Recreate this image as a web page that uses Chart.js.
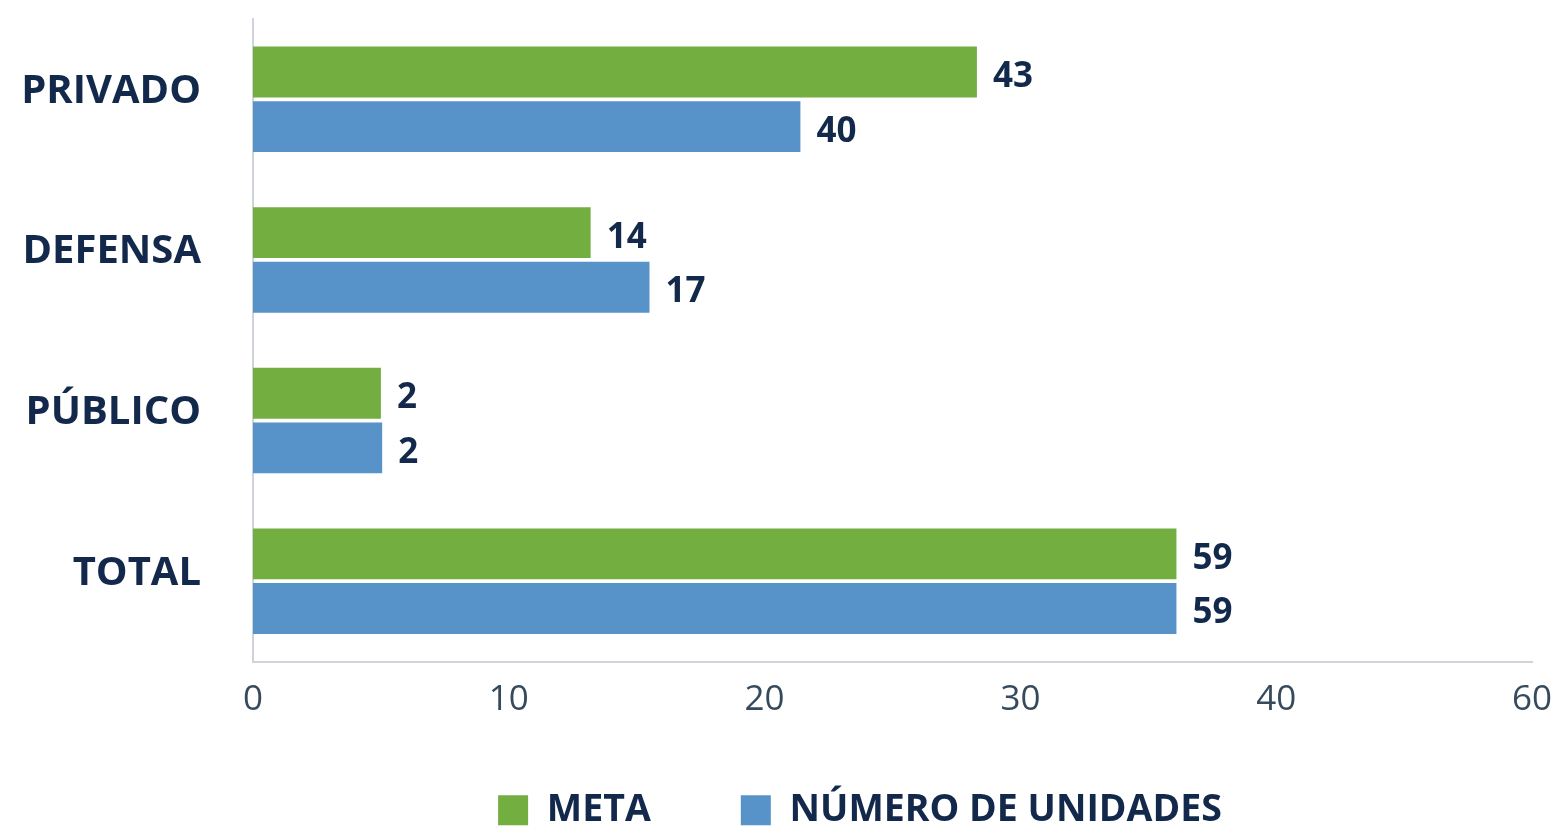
<!DOCTYPE html>
<html>
<head>
<meta charset="utf-8">
<script src="https://cdn.jsdelivr.net/npm/chart.js@4.4.1/dist/chart.umd.min.js"></script>
<style>
  html, body { margin: 0; padding: 0; background: #ffffff; }
  #wrap { width: 1568px; height: 830px; }
</style>
</head>
<body>
<div id="wrap"><canvas id="c" width="1568" height="830"></canvas></div>
<script>
// Categories (top to bottom)
const categories = ['PRIVADO', 'DEFENSA', 'PÚBLICO', 'TOTAL'];
// Series names
const seriesNames = ['META', 'NÚMERO DE UNIDADES'];
// Bar lengths as drawn in the picture (axis units)
const metaBars = [28.3, 13.2, 5.0, 36.1];
const unidadesBars = [21.4, 15.5, 5.05, 36.1];
// Value labels printed next to the bars
const metaLabels = ['43', '14', '2', '59'];
const unidadesLabels = ['40', '17', '2', '59'];
// Axis tick labels as printed (positions 0,10,20,30,40,50)
const tickLabels = ['0', '10', '20', '30', '40', '60'];

const GREEN = '#73ae41';
const BLUE = '#5792c9';
const NAVY = '#13294b';
const SLATE = '#364a5e';
const FONT = "'Open Sans', 'Noto Sans', sans-serif";

const valueLabelPlugin = {
  id: 'valueLabels',
  afterDatasetsDraw(chart) {
    const ctx = chart.ctx;
    const labelSets = [metaLabels, unidadesLabels];
    ctx.save();
    ctx.font = "bold 35px " + FONT;
    ctx.fillStyle = NAVY;
    ctx.textAlign = 'left';
    ctx.textBaseline = 'middle';
    chart.data.datasets.forEach((ds, di) => {
      const meta = chart.getDatasetMeta(di);
      meta.data.forEach((bar, i) => {
        ctx.fillText(labelSets[di][i], bar.x + 16, bar.y + 5);
      });
    });
    ctx.restore();
  }
};

// Shift the legend block so it sits where the reference places it
const legendShift = {
  id: 'legendShift',
  afterLayout(chart) {
    const lg = chart.legend;
    if (!lg) return;
    lg.left += 94; lg.right += 94;
    lg.top -= 20; lg.bottom -= 20;
  }
};

new Chart(document.getElementById('c'), {
  type: 'bar',
  data: {
    labels: categories,
    datasets: [
      { label: seriesNames[0], data: metaBars, backgroundColor: GREEN,
        categoryPercentage: 0.68, barPercentage: 0.93 },
      { label: seriesNames[1], data: unidadesBars, backgroundColor: BLUE,
        categoryPercentage: 0.68, barPercentage: 0.93 }
    ]
  },
  options: {
    indexAxis: 'y',
    responsive: false,
    animation: false,
    devicePixelRatio: 1,
    layout: { padding: { top: 19, right: 36, bottom: -29, left: 0 } },
    plugins: {
      legend: {
        position: 'bottom',
        labels: {
          boxWidth: 30,
          boxHeight: 30,
          padding: 90,
          color: NAVY,
          font: { family: FONT, size: 37.5, weight: 'bold' }
        }
      },
      tooltip: { enabled: false }
    },
    scales: {
      x: {
        min: 0, max: 50,
        ticks: {
          stepSize: 10,
          color: SLATE,
          padding: 18,
          font: { family: FONT, size: 35 },
          callback: (v, i) => tickLabels[i]
        },
        grid: { display: false, drawTicks: false },
        border: { display: true, color: '#cfd4da', width: 2 },
        afterFit: (s) => { s.height = 60; s.paddingLeft = 0; s.paddingRight = 0; }
      },
      y: {
        ticks: {
          color: NAVY,
          padding: 52,
          labelOffset: -8,
          font: { family: FONT, size: 40, weight: 'bold' }
        },
        grid: { display: false, drawTicks: false },
        border: { display: true, color: '#cfd4da', width: 2 },
        afterFit: (s) => { s.width = 253; s.paddingTop = 0; s.paddingBottom = 0; }
      }
    }
  },
  plugins: [valueLabelPlugin, legendShift]
});
</script>
</body>
</html>
